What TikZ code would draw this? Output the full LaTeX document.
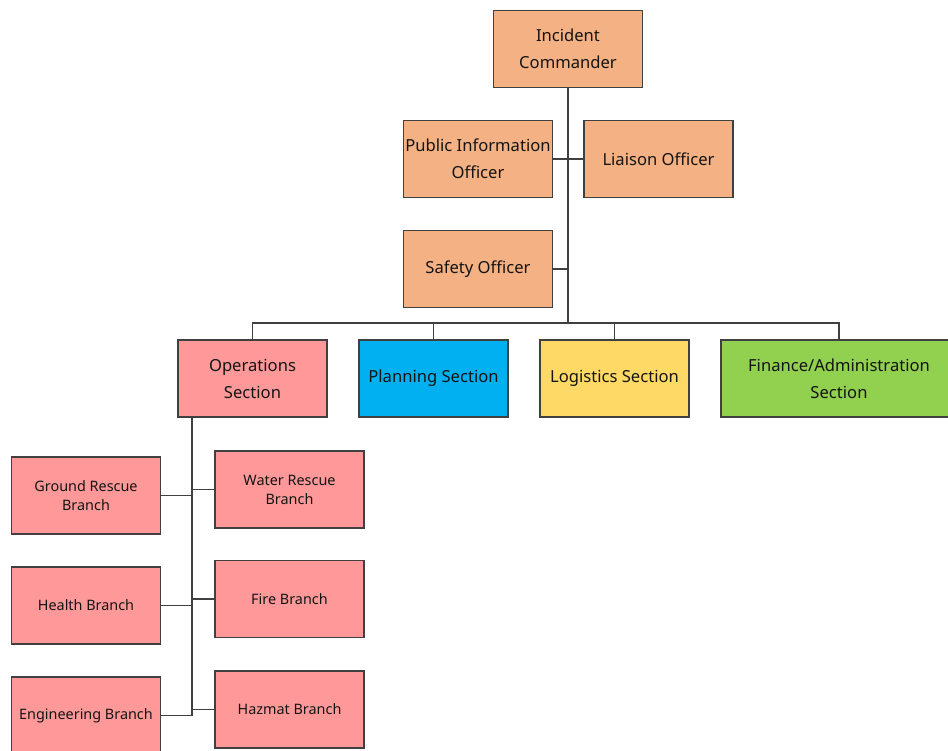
\documentclass[tikz,border=0pt]{standalone}
\usepackage{fontspec}
\setmainfont{Noto Sans}
\definecolor{orng}{HTML}{F4B183}
\definecolor{pnk}{HTML}{FF9999}
\definecolor{blu}{HTML}{00B0F0}
\definecolor{yel}{HTML}{FFD966}
\definecolor{grn}{HTML}{92D050}
\definecolor{edge}{HTML}{404040}
\begin{document}
\begin{tikzpicture}[x=1pt,y=-1pt,
  box/.style={draw=edge, line width=1.3pt, inner sep=0pt, align=center, text=black!92,
    minimum width=149pt, minimum height=77pt, font=\fontsize{16.6}{27}\selectfont},
  small/.style={box, font=\fontsize{14.4}{19}\selectfont},
  conn/.style={draw=edge, line width=1.2pt}]
\useasboundingbox (0,0) rectangle (948,751);
\clip (0,0) rectangle (948,751);
\node[box, fill=orng] (IC) at (568,49) {Incident\\Commander};
\node[box, fill=orng] (PIO) at (478,159) {Public Information\\Officer};
\node[box, fill=orng] (LO) at (658.5,159) {Liaison Officer};
\node[box, fill=orng] (SO) at (478,269) {Safety Officer};
\node[box, fill=pnk] (Ops) at (252.5,378.5) {Operations\\Section};
\node[box, fill=blu] (Plan) at (433.5,378.5) {Planning Section};
\node[box, fill=yel] (Log) at (614.5,378.5) {Logistics Section};
\node[box, fill=grn, minimum width=236pt] (Fin) at (839,378.5) {Finance/Administration\\Section};
\node[small, fill=pnk] (Ground) at (86,495.5) {Ground Rescue\\Branch};
\node[small, fill=pnk] (Water) at (289.5,489.5) {Water Rescue\\Branch};
\node[small, fill=pnk] (Health) at (86,605.5) {Health Branch};
\node[small, fill=pnk] (Fire) at (289.5,599) {Fire Branch};
\node[small, fill=pnk] (Eng) at (86,715.5) {Engineering Branch};
\node[small, fill=pnk] (Haz) at (289.5,709.5) {Hazmat Branch};
\coordinate (bus) at (568,323);
\coordinate (opsx) at (192,716);
\draw[conn] (IC.south) -- (bus);
\draw[conn] (PIO.east) -- (LO.west);
\draw[conn] (SO.east) -- (SO.east -| IC.south);
\draw[conn] (Ops.north) -- (Ops.north |- bus) -- (Fin.north |- bus) -- (Fin.north);
\draw[conn] (Plan.north) -- (Plan.north |- bus);
\draw[conn] (Log.north) -- (Log.north |- bus);
\draw[conn] (Ops.south -| opsx) -- (opsx);
\draw[conn] (Ground.east) -- (Ground.east -| opsx);
\draw[conn] (Health.east) -- (Health.east -| opsx);
\draw[conn] (Eng.east) -- (Eng.east -| opsx);
\draw[conn] (Water.west) -- (Water.west -| opsx);
\draw[conn] (Fire.west) -- (Fire.west -| opsx);
\draw[conn] (Haz.west) -- (Haz.west -| opsx);
\end{tikzpicture}
\end{document}
